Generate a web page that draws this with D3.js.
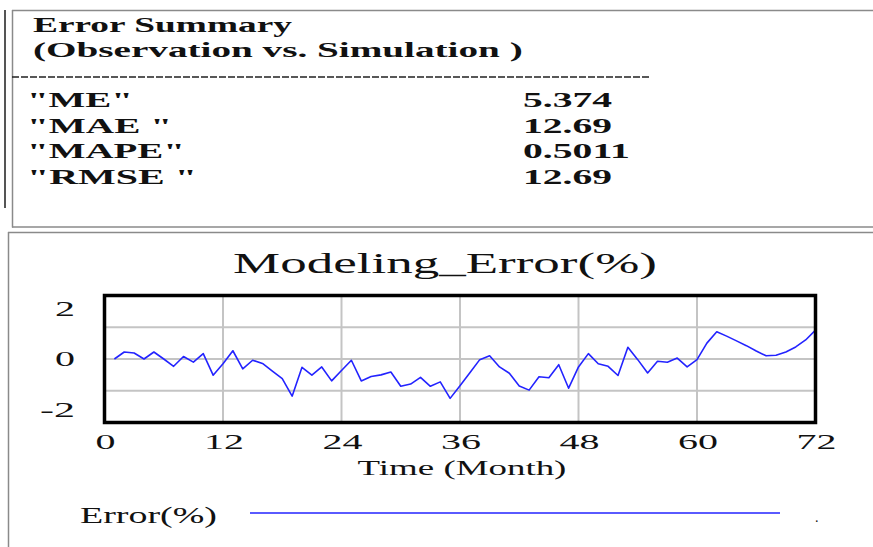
<!DOCTYPE html>
<html>
<head>
<meta charset="utf-8">
<script src="https://cdn.jsdelivr.net/npm/d3@7"></script>
<style>
  html, body { margin: 0; padding: 0; background: #fff; }
  svg { display: block; }
  text { font-family: "Liberation Serif", "Times New Roman", serif; fill: #111; }
</style>
</head>
<body>
<svg id="chart" width="873" height="547"></svg>
<script>
// ---- data ----
const summaryTitle = ["Error Summary", "(Observation vs. Simulation )"];
const summaryLabels = ["\"ME\"", "\"MAE \"", "\"MAPE\"", "\"RMSE \""];
const summaryValues = ["5.374", "12.69", "0.5011", "12.69"];

const chartTitle = "Modeling_Error(%)";
const xLabel = "Time (Month)";
const seriesName = "Error(%)";

const months = [1,2,3,4,5,6,7,8,9,10,11,12,13,14,15,16,17,18,19,20,21,22,23,24,
  25,26,27,28,29,30,31,32,33,34,35,36,37,38,39,40,41,42,43,44,45,46,47,48,
  49,50,51,52,53,54,55,56,57,58,59,60,61,62,63,64,65,66,67,68,69,70,71,72];
const errorPct = [0.00,0.22,0.19,0.00,0.22,0.00,-0.23,0.08,-0.10,0.17,-0.51,-0.15,
  0.26,-0.31,-0.04,-0.14,-0.38,-0.62,-1.17,-0.26,-0.51,-0.25,-0.69,-0.36,
  -0.04,-0.69,-0.55,-0.50,-0.41,-0.86,-0.79,-0.58,-0.86,-0.72,-1.24,-0.84,
  -0.43,-0.02,0.10,-0.25,-0.45,-0.85,-0.98,-0.56,-0.59,-0.18,-0.92,-0.25,
  0.17,-0.15,-0.23,-0.52,0.37,-0.02,-0.44,-0.07,-0.10,0.03,-0.25,-0.02,
  0.50,0.86,0.72,0.57,0.42,0.25,0.10,0.12,0.22,0.38,0.60,0.91];

const xTicks = [0, 12, 24, 36, 48, 60, 72];
const yTickLabels = [2, 0, -2];
const yGrid = [-1, 0, 1];

// ---- drawing ----
const svg = d3.select("#chart");

// helper: place text and stretch horizontally to a target width
function fitText(str, px, py, size, width, opts = {}) {
  const t = svg.append("text")
    .attr("x", 0).attr("y", 0)
    .attr("font-size", size)
    .attr("font-weight", opts.bold ? "bold" : "normal")
    .attr("text-anchor", opts.anchor || "start")
    .text(str);
  if (opts.fill) t.attr("fill", opts.fill);
  const natural = t.node().getComputedTextLength();
  const sx = natural > 0 ? width / natural : 1;
  t.attr("transform", `translate(${px},${py}) scale(${sx},1)`);
  return t;
}

// top summary panel borders
svg.append("line").attr("x1", 12).attr("x2", 873).attr("y1", 10.5).attr("y2", 10.5)
  .attr("stroke", "#8a8a8a").attr("stroke-width", 1.5);
svg.append("line").attr("x1", 12).attr("x2", 873).attr("y1", 227).attr("y2", 227)
  .attr("stroke", "#8a8a8a").attr("stroke-width", 1.5);
svg.append("line").attr("x1", 12.5).attr("x2", 12.5).attr("y1", 10).attr("y2", 227.5)
  .attr("stroke", "#8a8a8a").attr("stroke-width", 1.5);
svg.append("line").attr("x1", 5).attr("x2", 5).attr("y1", 10).attr("y2", 208)
  .attr("stroke", "#555").attr("stroke-width", 2);

// summary texts
const sumWidths = [259, 490];
const sumBase = [32, 57];
summaryTitle.forEach((t, i) => fitText(t, 33, sumBase[i], 22, sumWidths[i], { bold: true }));

svg.append("line").attr("x1", 12).attr("x2", 649).attr("y1", 77).attr("y2", 77)
  .attr("stroke", "#222").attr("stroke-width", 1.5).attr("stroke-dasharray", "7,2");

const rowBase = [107, 133, 158, 184];
const labelWidths = [106, 145, 158, 170];
const valueWidths = [89, 89, 107, 89];
summaryLabels.forEach((t, i) => {
  fitText(t, 27, rowBase[i], 21, labelWidths[i], { bold: true });
  fitText(summaryValues[i], 523, rowBase[i], 21, valueWidths[i], { bold: true });
});

// bottom chart panel borders
svg.append("line").attr("x1", 8).attr("x2", 873).attr("y1", 232.5).attr("y2", 232.5)
  .attr("stroke", "#8a8a8a").attr("stroke-width", 1.5);
svg.append("line").attr("x1", 8.5).attr("x2", 8.5).attr("y1", 232).attr("y2", 547)
  .attr("stroke", "#8a8a8a").attr("stroke-width", 1.5);

// title
fitText(chartTitle, 445, 273, 30, 424, { anchor: "middle" });

// scales
const x = d3.scaleLinear().domain([0, 72]).range([104.5, 815.5]);
const y = d3.scaleLinear().domain([-2, 2]).range([422.5, 295.5]);

// grid
const grid = svg.append("g");
grid.selectAll("line.v").data(xTicks.slice(1, -1)).join("line")
  .attr("x1", d => x(d)).attr("x2", d => x(d))
  .attr("y1", y(2)).attr("y2", y(-2))
  .attr("stroke", "#c4c4c4").attr("stroke-width", 2);
grid.selectAll("line.h").data(yGrid).join("line")
  .attr("x1", x(0)).attr("x2", x(72))
  .attr("y1", d => y(d)).attr("y2", d => y(d))
  .attr("stroke", "#c4c4c4").attr("stroke-width", 2);

// line
const line = d3.line().x((d, i) => x(months[i])).y(d => y(d));
svg.append("path").datum(errorPct).attr("d", line)
  .attr("fill", "none").attr("stroke", "#2323ff").attr("stroke-width", 1.6)
  .attr("stroke-linejoin", "round");

// frame
svg.append("rect").attr("x", x(0)).attr("y", y(2))
  .attr("width", x(72) - x(0)).attr("height", y(-2) - y(2))
  .attr("fill", "none").attr("stroke", "#000").attr("stroke-width", 3.5);

// y tick labels (inset at top and bottom, like the original)
const yLabelPos = { "2": 316, "0": 366, "-2": 417 };
const yLabelW = { "2": 20, "0": 20, "-2": 35 };
yTickLabels.forEach(v => {
  fitText(String(v), 75, yLabelPos[String(v)], 21, yLabelW[String(v)], { anchor: "end" });
});

// x tick labels
xTicks.forEach(d => {
  fitText(String(d), x(d) + 1, 449, 21, String(d).length * 20, { anchor: "middle" });
});

// x axis label
fitText(xLabel, 462, 475, 22, 209, { anchor: "middle" });

// legend
fitText(seriesName, 80, 523, 23, 137);
svg.append("line").attr("x1", 250).attr("x2", 780).attr("y1", 513).attr("y2", 513)
  .attr("stroke", "#2323ff").attr("stroke-width", 1.6);
svg.append("text").attr("x", 815).attr("y", 522).attr("font-size", 14).attr("fill", "#555").text(".");
</script>
</body>
</html>
